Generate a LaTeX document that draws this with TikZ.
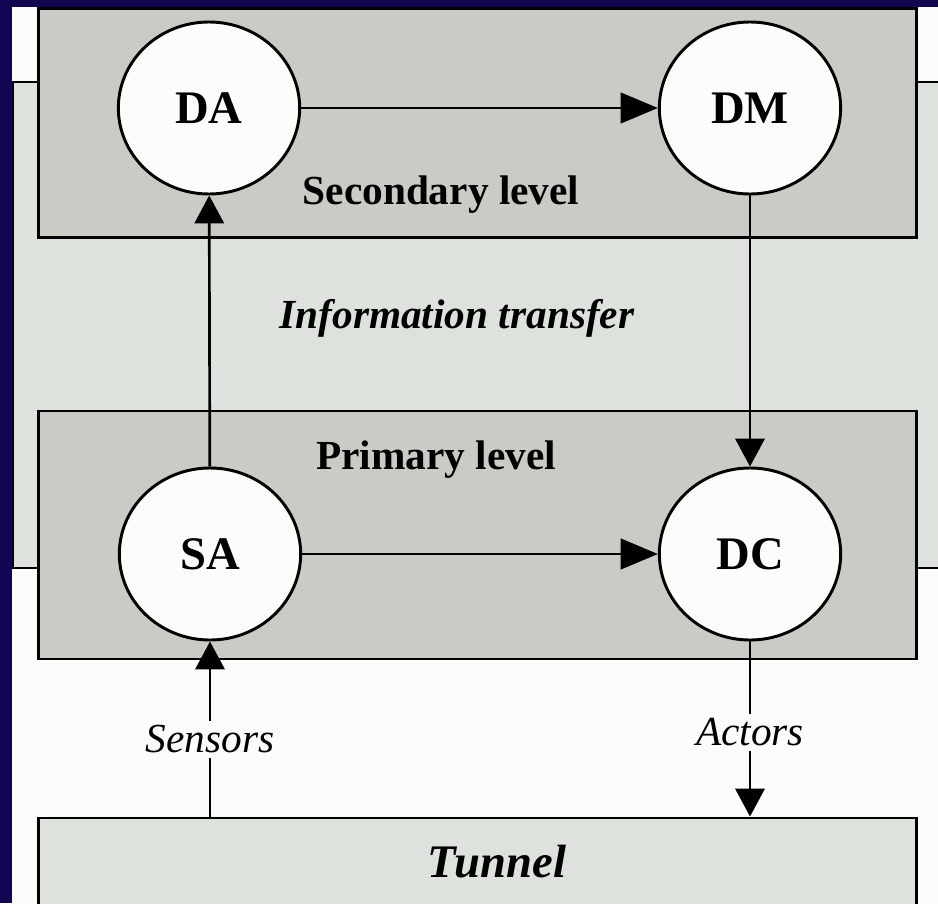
\documentclass[tikz,border=0pt]{standalone}
\usepackage{fontspec}
\setmainfont{Liberation Serif}
\usetikzlibrary{arrows.meta,shapes.geometric}
\definecolor{navy}{RGB}{16,5,80}
\definecolor{paper}{RGB}{252,252,250}
\definecolor{panelgrey}{RGB}{221,226,220}
\definecolor{boxgrey}{RGB}{201,203,197}
\tikzset{
  levelbox/.style={draw,line width=2.2pt,fill=boxgrey,minimum width=659pt,inner sep=0pt},
  agent/.style={ellipse,draw,line width=2.2pt,fill=paper,minimum width=136pt,minimum height=129pt,
    inner sep=0pt,font=\fontsize{35}{42}\selectfont\bfseries},
  conn/.style={line width=2pt,-{Triangle[length=21pt,width=22pt]}},
  longtip/.style={-{Triangle[length=28pt,width=23pt]}},
  lbl/.style={font=\fontsize{31}{37}\selectfont}
}
\begin{document}
\begin{tikzpicture}[x=0.75pt,y=-0.75pt]
\useasboundingbox (0,0) rectangle (938,903);
\clip (0,0) rectangle (938,903);
\fill [navy] (0,0) rectangle (938,903);
\fill [paper] (12,7) rectangle (938,903);
% light panel behind the two levels
\filldraw [fill=panelgrey,line width=2.2pt] (945,82) -- (13,82) -- (13,568) -- (945,568);
\node [levelbox,minimum height=172pt] (secbox) at (477.5,123) {};
\node [levelbox,minimum height=186pt] (primbox) at (477.5,535) {};
\node [levelbox,minimum height=99pt,fill=panelgrey] (tunnel) at (477.5,884) {};
\node [lbl] (seclbl) at (441,195) {\bfseries Secondary level};
\node [lbl] (infolbl) at (457,318) {\bfseries\itshape Information transfer};
\node [lbl] (primlbl) at (436,460) {\bfseries Primary level};
\node [font=\fontsize{35}{42}\selectfont] (tunnellbl) at (497,862) {\bfseries\itshape Tunnel};
% agents
\node [agent] (DA) at (209,108) {DA};
\node [agent] (DM) at (750,108) {DM};
\node [agent] (SA) at (210,554) {SA};
\node [agent] (DC) at (750,554) {DC};
\draw [conn,longtip] (DA) -- (DM);
\draw [conn,longtip] (SA) -- (DC);
\draw [conn] (SA) -- (DA);
\draw [conn] (DM) -- (DC);
\draw [conn] (tunnel.north -| SA.south) -- node [lbl,fill=paper,pos=0.44] (senslbl) {\itshape Sensors} (SA);
\draw [conn] (DC) -- node [lbl,fill=paper,pos=0.52] (actlbl) {\itshape Actors} (tunnel.north -| DC.south);
\end{tikzpicture}
\end{document}
